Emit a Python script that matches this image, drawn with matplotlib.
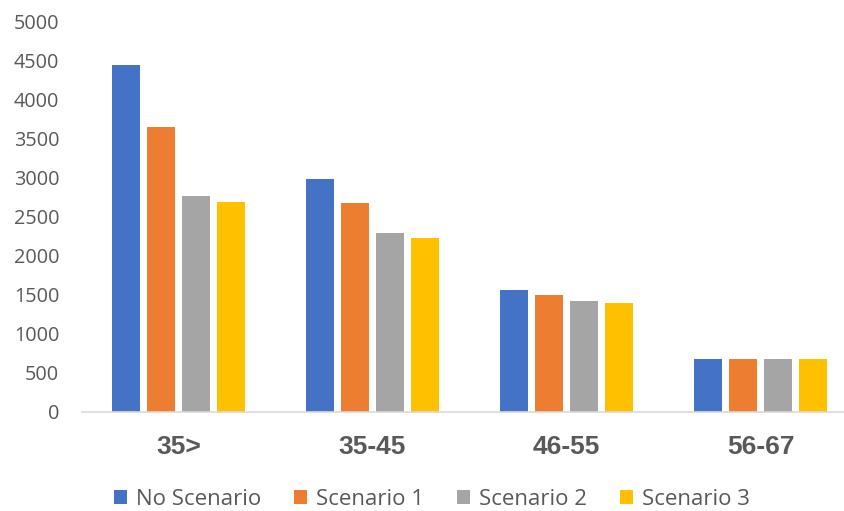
import matplotlib.pyplot as plt
import numpy as np

# Age groups and the four scenarios
categories = ['35>', '35-45', '46-55', '56-67']
series_names = ['No Scenario', 'Scenario 1', 'Scenario 2', 'Scenario 3']
no_scenario = [4450, 2980, 1560, 680]
scenario_1 = [3650, 2680, 1500, 680]
scenario_2 = [2770, 2290, 1420, 680]
scenario_3 = [2690, 2230, 1390, 680]
y_ticks = [0, 500, 1000, 1500, 2000, 2500, 3000, 3500, 4000, 4500, 5000]

colors = ['#4472C4', '#ED7D31', '#A5A5A5', '#FFC000']
text_color = '#595959'

fig = plt.figure(figsize=(8.44, 5.11), dpi=100)
ax = fig.add_axes([81.5 / 844, 1 - 411.7 / 511, 776 / 844, 390 / 511])

x = np.arange(len(categories))
width = 0.143
step = 0.180
all_series = [no_scenario, scenario_1, scenario_2, scenario_3]
for i, (name, vals) in enumerate(zip(series_names, all_series)):
  ax.bar(x + (i - 1.5) * step, vals, width, color=colors[i], label=name)

ax.set_xlim(-0.5, len(categories) - 0.5)
ax.set_ylim(0, 5000)
ax.set_yticks(y_ticks)
ax.set_yticklabels([str(t) for t in y_ticks], fontsize=14.3, color=text_color,
                   family=['Open Sans', 'DejaVu Sans'])
ax.set_xticks(x)
ax.set_xticklabels(categories, fontsize=19, fontweight='bold', color=text_color,
                   family=['Liberation Sans', 'DejaVu Sans'])
ax.tick_params(axis='y', length=0, pad=16)
ax.tick_params(axis='x', length=0, pad=17)

for s in ['top', 'right', 'left']:
  ax.spines[s].set_visible(False)
ax.spines['bottom'].set_color('#D9D9D9')
ax.spines['bottom'].set_linewidth(1.2)

fig.legend(loc='center', bbox_to_anchor=(432 / 844, 1 - 499.5 / 511), ncol=4,
           frameon=False, handlelength=0.58, handleheight=0.58,
           handletextpad=0.4, columnspacing=1.5,
           prop={'family': ['Open Sans', 'DejaVu Sans'], 'size': 16},
           labelcolor=text_color)

fig.savefig('out.png', dpi=100)
